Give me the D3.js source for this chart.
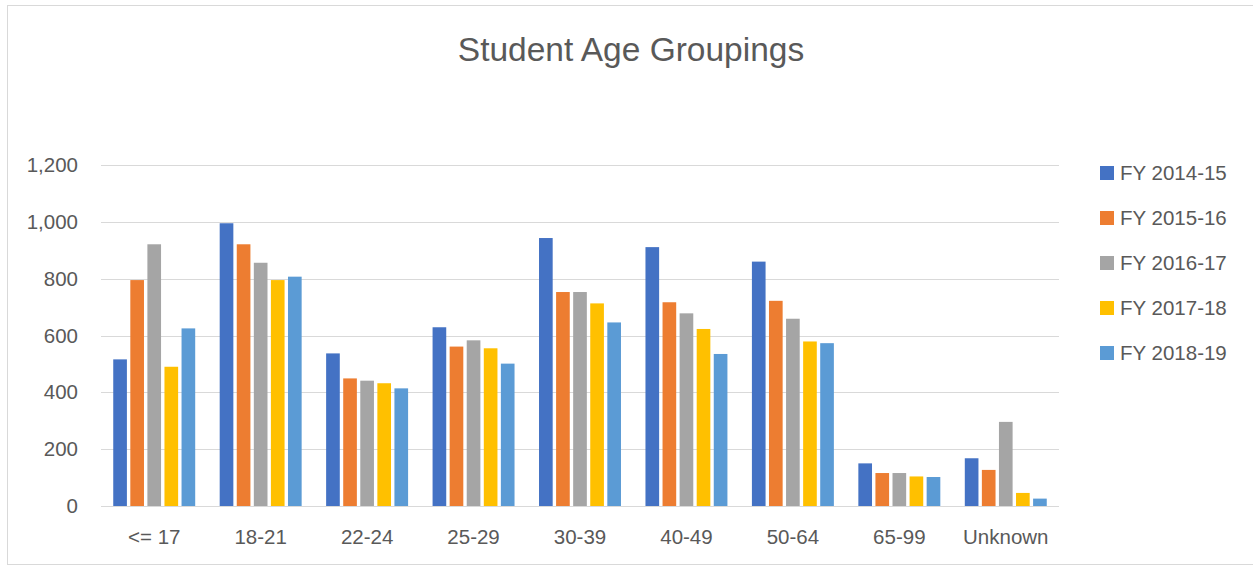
<!DOCTYPE html>
<html>
<head>
<meta charset="utf-8">
<script src="https://cdn.jsdelivr.net/npm/d3@7"></script>
<style>
  body { margin: 0; background: #fff; }
  text { font-family: "Liberation Sans", Arial, sans-serif; fill: #595959; }
  .grid line { stroke: #d9d9d9; }
  .grid .domain { display: none; }
</style>
</head>
<body>
<svg id="chart" width="1253" height="567"></svg>
<script>
var categories = ["<= 17", "18-21", "22-24", "25-29", "30-39", "40-49", "50-64", "65-99", "Unknown"];
var seriesNames = ["FY 2014-15", "FY 2015-16", "FY 2016-17", "FY 2017-18", "FY 2018-19"];
var colors = ["#4472c4", "#ed7d31", "#a5a5a5", "#ffc000", "#5b9bd5"];
var fy1415 = [516, 995, 537, 629, 943, 911, 860, 150, 168];
var fy1516 = [795, 921, 449, 561, 753, 717, 722, 116, 127];
var fy1617 = [921, 856, 441, 583, 753, 678, 659, 116, 296];
var fy1718 = [490, 795, 432, 555, 713, 623, 579, 104, 46];
var fy1819 = [625, 807, 414, 501, 646, 535, 573, 102, 26];
var yTicks = [0, 200, 400, 600, 800, 1000, 1200];

var series = [fy1415, fy1516, fy1617, fy1718, fy1819];

var svg = d3.select("#chart"),
  margin = {top: 165, right: 194, bottom: 61, left: 101},
  width = +svg.attr("width") - margin.left - margin.right,
  height = +svg.attr("height") - margin.top - margin.bottom;

// outer chart border
svg.append("rect")
  .attr("x", 7.5).attr("y", 5.5)
  .attr("width", 1253).attr("height", 559)
  .attr("fill", "none")
  .attr("stroke", "#d9d9d9");

svg.append("text")
  .attr("x", 631).attr("y", 61)
  .attr("text-anchor", "middle")
  .style("font-size", "33.5px")
  .text("Student Age Groupings");

var g = svg.append("g").attr("transform", "translate(" + margin.left + "," + margin.top + ")");

var x0 = d3.scaleBand().domain(categories).range([0, width]).paddingInner(0.23).paddingOuter(0.115);
var x1 = d3.scaleBand().domain(d3.range(series.length)).range([0, x0.bandwidth()]).paddingInner(0.2);
var y = d3.scaleLinear().domain([0, 1200]).range([height, 0]);

g.append("g")
  .attr("class", "grid")
  .call(d3.axisLeft(y).tickValues(yTicks).tickSize(-width).tickFormat(""))
  .selectAll("line").attr("shape-rendering", "crispEdges");

g.append("g")
  .attr("class", "yaxis")
  .call(d3.axisLeft(y).tickValues(yTicks).tickSize(0).tickPadding(23).tickFormat(d3.format(",")))
  .call(function(a) { a.select(".domain").remove(); })
  .selectAll("text").style("font-size", "20.5px").style("fill", "#595959");

var groups = g.selectAll(".grp")
  .data(categories)
  .enter().append("g")
  .attr("class", "grp")
  .attr("transform", function(d) { return "translate(" + x0(d) + ",0)"; });

groups.selectAll("rect")
  .data(function(d, i) { return series.map(function(s, k) { return {k: k, v: s[i]}; }); })
  .enter().append("rect")
  .attr("x", function(d) { return x1(d.k); })
  .attr("width", x1.bandwidth())
  .attr("y", function(d) { return y(d.v); })
  .attr("height", function(d) { return height - y(d.v); })
  .attr("fill", function(d) { return colors[d.k]; });

g.append("line")
  .attr("x1", 0).attr("x2", width)
  .attr("y1", height + 0.5).attr("y2", height + 0.5)
  .attr("stroke", "#d9d9d9");

g.append("g")
  .attr("transform", "translate(0," + height + ")")
  .call(d3.axisBottom(x0).tickSize(0).tickPadding(23))
  .call(function(a) { a.select(".domain").remove(); })
  .selectAll("text").style("font-size", "20.5px").style("fill", "#595959");

var legend = svg.append("g").attr("transform", "translate(1100,166)");
var item = legend.selectAll(".item")
  .data(seriesNames)
  .enter().append("g")
  .attr("transform", function(d, i) { return "translate(0," + (i * 45) + ")"; });
item.append("rect")
  .attr("width", 14).attr("height", 14)
  .attr("fill", function(d, i) { return colors[i]; });
item.append("text")
  .attr("x", 20).attr("y", 7).attr("dy", "0.35em")
  .style("font-size", "20.5px")
  .text(function(d) { return d; });
</script>
</body>
</html>
